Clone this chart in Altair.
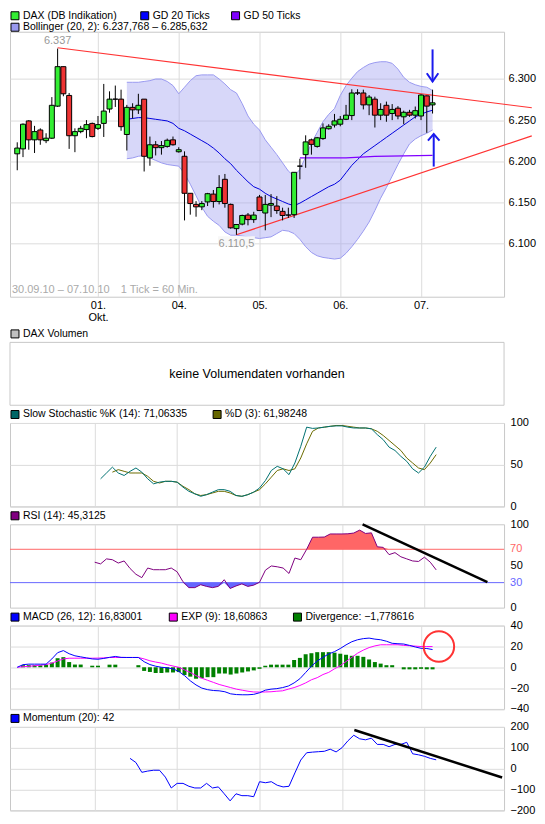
import json
import altair as alt
import pandas as pd

FONT = "Liberation Sans"
FS = 11
LFS = 10.5
W = 495
H_MAIN = 265.5
H_VOL = 90.75
VOL_TOP = 27.75
H_IND = 83.5
SPACING = 17.5

GRID = "#dcdcdc"
FRAME = "#c8c8c8"
GREEN = "#33ee33"
RED = "#ee3333"

# ---------------- x axis: candle index (1 tick = 60 min) ----------------
XDOM = [-0.39, 83.53]
day_ticks = [14, 28, 42, 56, 70]
day_labels = [["01.", "Okt."], "04.", "05.", "06.", "07."]

# ---------------- DAX candles ----------------
candle_open = [6209, 6215, 6249, 6226, 6238, 6225, 6228, 6267, 6315, 6280,
               6231, 6236, 6238.5, 6246, 6240, 6246, 6263.5, 6275.5, 6275.5, 6232.5,
               6265.5, 6262.5, 6275.5, 6204, 6220, 6216.5, 6218, 6226, 6211.5, 6206,
               6161, 6147.5, 6144.5, 6150.5, 6160, 6151, 6178, 6147.5, 6118, 6123.5,
               6134.5, 6129, 6156.5, 6137, 6146.5, 6145.5, 6139, 6134.5, 6135, 6194,
               6208, 6226, 6218, 6227.5, 6239.5, 6244, 6245, 6251, 6255.5, 6283,
               6283, 6268.5, 6275.5, 6256, 6268, 6258, 6264.5, 6254, 6259.5, 6256,
               6255, 6279.5, 6268.5]
candle_high = [6223, 6246, 6250, 6243, 6240, 6234, 6278, 6337, 6315, 6283,
               6240, 6243, 6250, 6247, 6255, 6294, 6285, 6292, 6287, 6268.5,
               6270.5, 6282, 6275.5, 6230, 6224.5, 6224.5, 6227.5, 6230, 6217, 6212,
               6161, 6151.5, 6151.5, 6161.5, 6165, 6183, 6184.5, 6148.5, 6123.5, 6135,
               6137, 6138.5, 6159, 6159, 6160, 6157.5, 6143.5, 6143.5, 6186.5, 6203,
               6231.5, 6227.5, 6229.5, 6246, 6245, 6257.5, 6255, 6268.5, 6287.5, 6287.5,
               6287, 6280.5, 6278.5, 6270.5, 6272.5, 6269.5, 6267, 6261.5, 6262.5, 6266.5,
               6281.5, 6280, 6287]
candle_low = [6189, 6205, 6214, 6210, 6220, 6222, 6227, 6266, 6279, 6215,
              6211, 6234, 6228, 6229, 6238, 6229.5, 6259, 6266, 6237, 6213,
              6252, 6257.5, 6187.5, 6194.5, 6207, 6208, 6216.5, 6219, 6210.5, 6128,
              6135, 6132.5, 6140.5, 6145.5, 6143.5, 6147.5, 6143.5, 6118, 6110.5, 6122,
              6122, 6125, 6139.5, 6116, 6132, 6136, 6128, 6131, 6131, 6178,
              6192, 6208, 6216.5, 6226, 6238.5, 6241, 6242.5, 6250, 6250, 6280.5,
              6263, 6256, 6241, 6250, 6248, 6250, 6251, 6245, 6254, 6252,
              6250, 6234.5, 6258]
candle_close = [6216, 6245, 6226, 6236, 6226, 6228, 6268, 6315, 6282, 6231,
                6236, 6240, 6244.5, 6230, 6244.5, 6261, 6275.5, 6275.5, 6242, 6265.5,
                6262.5, 6268, 6206, 6220, 6216.5, 6219, 6225.5, 6220, 6214, 6161,
                6148.5, 6144.5, 6148.5, 6160.5, 6151, 6168, 6148.5, 6119, 6123, 6134,
                6129, 6134.5, 6140, 6147.5, 6148.5, 6140, 6134, 6134.5, 6186.5, 6194,
                6223.5, 6220.5, 6228.5, 6240.5, 6242.5, 6249, 6251, 6256, 6283, 6283,
                6268.5, 6278, 6256, 6263, 6256, 6263, 6255, 6259.5, 6256, 6261.5,
                6280.5, 6267, 6271]

# ---------------- Bollinger (20, 2) / GD 20 from candle 19 ----------------
boll_start = 19
boll_upper = [6296, 6296, 6296, 6297, 6298, 6300, 6300, 6297, 6292, 6282,
              6290, 6298, 6304, 6305, 6305, 6305, 6300, 6294, 6287, 6283,
              6270, 6255, 6245, 6238, 6226, 6217, 6208, 6198, 6188, 6182,
              6190, 6205, 6222, 6235, 6248, 6257, 6264, 6280, 6292, 6301,
              6309, 6314, 6318, 6320, 6321, 6321, 6319, 6312, 6302, 6296,
              6293, 6291, 6290, 6286]
boll_mid = [6251, 6252, 6253, 6253, 6252, 6251, 6250, 6249, 6246, 6240,
            6237, 6233, 6229, 6225, 6221, 6216, 6210, 6203, 6197, 6189,
            6182, 6175, 6169, 6166, 6161, 6157, 6154, 6151, 6148, 6146,
            6149, 6153, 6157, 6161, 6165, 6169, 6172, 6177, 6186, 6195,
            6202, 6209, 6214, 6219, 6224, 6229, 6234, 6239, 6244, 6249,
            6254, 6257, 6260, 6262]
boll_lower = [6203, 6204, 6206, 6207, 6204, 6201, 6198, 6196, 6195, 6194,
              6185, 6172, 6158, 6144, 6133, 6127, 6122, 6114, 6110, 6110,
              6109, 6108, 6107, 6106, 6107, 6108, 6112, 6116, 6115, 6112,
              6105, 6096, 6089, 6085, 6083, 6082, 6081, 6082, 6088, 6096,
              6105, 6115, 6126, 6140, 6155, 6168, 6182, 6196, 6209, 6221,
              6227, 6231, 6234, 6238]

gd50_i = [49, 57, 62, 72]
gd50_v = [6204, 6204, 6206, 6207]

trend_lines = [("top", [7, 89.2], [6338, 6265]),
               ("bottom", [38, 89.2], [6110.5, 6230.8])]

arrows = [("down_shaft", [72, 72], [6336, 6297]),
          ("down_head", [71, 72, 73], [6307, 6297, 6307]),
          ("up_shaft", [72.2, 72.2], [6193.5, 6233]),
          ("up_head", [71.2, 72.2, 73.2], [6225, 6233, 6225])]

price_label_text = ["6.337", "6.110,5"]
price_label_i = [7, 38]
price_label_v = [6337, 6110.5]

# ---------------- indicators ----------------
stoch_k_start = 15
stoch_k = [33, 40, 47, 40, 37, 42, 46, 41, 33, 27,
           29, 30, 30, 29, 23, 18, 15, 12, 14, 17,
           20, 20, 18, 13, 12, 14, 17, 22, 31, 43,
           48, 45, 38, 52, 72, 95, 93.5, 94, 95, 96,
           96.5, 96.5, 95, 94, 94, 94, 93, 86, 80, 71,
           67, 60, 54, 45, 40, 47, 60, 71]
stoch_d_start = 17
stoch_d = [41, 44, 42, 40, 40, 40, 36, 30, 28, 30,
           30, 29, 24, 20, 15, 13, 14, 16, 18, 18,
           16, 13, 12, 14, 17, 20, 27, 35, 43, 45,
           43, 45, 58, 75, 90, 94, 95, 96, 97, 97,
           96, 95, 94, 94, 93, 90, 85, 79, 73, 67,
           58, 52, 46, 44, 52, 62]

rsi_start = 14
rsi = [54.5, 52.5, 58.5, 57.5, 53.5, 56, 47, 40, 36, 47.5,
       45.5, 45.5, 45.5, 47.5, 43, 31, 24, 24, 27.5, 25.5,
       24, 25.5, 33.5, 23, 26, 28.5, 25.5, 27, 30.5, 45,
       50, 49, 47.5, 41, 59.5, 57.5, 70, 84.5, 84.5, 84.7,
       88.4, 88.4, 88.4, 88.6, 89.5, 93, 89, 89.7, 73, 72.3,
       63.6, 66, 61, 58.5, 56, 55.4, 60.5, 54.5, 45.3]
rsi_levels = [70, 30]
rsi_level_colors = ["#ff6666", "#6666ff"]
rsi_trend_i = [59.5, 80.7]
rsi_trend_v = [100, 30.6]

macd = [0, 2.5, 3, 3, 3, 3, 8, 14, 16, 13,
        11, 10, 9, 8, 7.7, 8.5, 9.5, 10.4, 9.5, 9.4,
        9.4, 9.4, 5.3, 2.6, 1, 0, -0.5, -1.5, -4, -8,
        -13, -17, -20, -21.5, -22.3, -22.6, -23.5, -25.5, -26.2, -26.4,
        -26.4, -26, -24.5, -22, -21, -20.5, -19.5, -18, -15, -11,
        -5, 1, 6, 9.5, 12.8, 15, 18, 21.5, 24.5, 26.4,
        27.5, 28, 27, 26.4, 25, 23, 22.6, 22.3, 21, 19.5,
        18.2, 18, 17]
macd_exp = [0, 0.5, 0.9, 1.5, 2, 2.6, 4, 6, 8, 8.7,
            8.7, 8.7, 8.7, 8.7, 8.8, 9, 9.4, 9.4, 9.4, 9.4,
            9.4, 9.4, 8, 6.2, 5, 4, 2.5, 1.2, 0, -2.5,
            -5, -8, -10.5, -12.5, -14.5, -16.5, -18, -19.5, -21, -22,
            -23, -23.7, -23.8, -23.7, -23.5, -23, -22.6, -21, -19.5, -17.5,
            -15, -12, -10, -7, -4.9, -1.5, 1.5, 5.5, 9.5, 13.5,
            16.5, 18.9, 20.5, 21.6, 21.6, 21.6, 21.6, 21, 20.6, 20.3,
            19.9, 19.9, 19.9]
macd_div = [0, 2, 2, 2, 2, 2.5, 4.5, 8.7, 9.7, 5,
            2.6, 2.6, 0, 1.5, 1.5, 0, 2.5, 2.5, 0, 0,
            0, 2, -3.5, -4.5, -5.5, -5.5, -5, -5, -4.6, -7.5,
            -9, -11, -10.5, -9.5, -9.5, -6, -6, -7, -6, -5,
            -4, -3, -1.5, 1.5, 2.5, 2.5, 2.5, 2.5, 7, 9,
            12.5, 13.5, 14.5, 14.5, 14.5, 14, 13, 12, 11, 11,
            10, 7.5, 5, 3.5, 2, 2, 0, -2, -2, -2,
            -1.5, -2, -2]
macd_circle_i = [73.1]
macd_circle_v = [19.9]

mom_start = 20
mom = [49, 29, -18, -12, -8, -8, -41, -93, -71, -71,
       -85, -93, -93, -71, -93, -88, -121, -155, -121, -130,
       -130, -135, -63, -68, -63, -80, -88, -85, -21, 41,
       76, 79, 81, 83, 93, 80, 100, 133, 160, 143,
       138, 146, 116, 116, 105, 116, 116, 126, 71, 66,
       59, 49, 42]
mom_trend_i = [58.1, 83.2]
mom_trend_v = [185, -43]

# ---------------- helpers ----------------
ONE = pd.DataFrame({"a": [0]})


def xscale():
    return alt.Scale(domain=XDOM, nice=False, zero=False)


label_expr = " : ".join(
    f"datum.value == {t} ? {json.dumps(l)}" for t, l in zip(day_ticks, day_labels)
) + " : ''"

x_axis_main = alt.Axis(values=day_ticks, labelExpr=label_expr, grid=True, gridColor=GRID,
                       ticks=False, tickSize=0, domain=False, labelPadding=3,
                       labelLineHeight=12, labelAngle=0, title=None)
x_axis_ind = alt.Axis(values=day_ticks, labels=False, grid=True, gridColor=GRID,
                      ticks=False, tickSize=0, domain=False, title=None)


def legend_layers(items):
    out = []
    for text, color, sx, sy in items:
        out.append(alt.Chart(ONE).mark_square(size=64, fill=color, filled=True, stroke="black",
                                              strokeWidth=1, opacity=1)
                   .encode(x=alt.value(sx), y=alt.value(sy)))
        out.append(alt.Chart(ONE).mark_text(text=text, align="left", baseline="middle",
                                            font=FONT, fontSize=LFS, color="black")
                   .encode(x=alt.value(sx + 8), y=alt.value(sy)))
    return out


def series_df(start, values):
    return pd.DataFrame({"i": list(range(start, start + len(values))), "v": values})


def segs_df(segs):
    rows = []
    for name, xs, ys in segs:
        for k, (xv, yv) in enumerate(zip(xs, ys)):
            rows.append({"seg": name, "k": k, "i": xv, "v": yv})
    return pd.DataFrame(rows)


# ---------------- main panel ----------------
YS_MAIN = alt.Scale(domain=[6035.2, 6357.5], nice=False, zero=False)
y_axis_main = alt.Axis(orient="right", values=[6100, 6150, 6200, 6250, 6300],
                       labelExpr="replace(format(datum.value, ',d'), ',', '.')",
                       grid=True, gridColor=GRID, ticks=False, domain=False,
                       labelPadding=4, title=None)


def XM(f="i"):
    return alt.X(f"{f}:Q", scale=xscale(), axis=x_axis_main)


def YM(f):
    return alt.Y(f"{f}:Q", scale=YS_MAIN, axis=y_axis_main)


cdf = pd.DataFrame({"i": list(range(len(candle_open))), "open": candle_open, "high": candle_high,
                    "low": candle_low, "close": candle_close})
cdf["fill"] = [GREEN if c >= o else RED for o, c in zip(candle_open, candle_close)]

bdf = pd.DataFrame({"i": list(range(boll_start, boll_start + len(boll_mid))),
                    "upper": boll_upper, "mid": boll_mid, "lower": boll_lower})
edges = pd.concat([
    pd.DataFrame({"i": bdf["i"], "v": bdf["upper"], "edge": "upper"}),
    pd.DataFrame({"i": bdf["i"], "v": bdf["lower"], "edge": "lower"}),
])

band = alt.Chart(bdf).mark_area(color="#a0a0f0", opacity=0.42).encode(
    x=XM(), y=YM("upper"), y2="lower:Q")
band_edges = alt.Chart(edges).mark_line(color="#9a9af0", strokeWidth=1).encode(
    x=XM(), y=YM("v"), detail="edge:N")
mid_line = alt.Chart(bdf).mark_line(color="#0000dd", strokeWidth=1).encode(x=XM(), y=YM("mid"))
gd50 = alt.Chart(pd.DataFrame({"i": gd50_i, "v": gd50_v})).mark_line(
    color="#8000ff", strokeWidth=1.2).encode(x=XM(), y=YM("v"))
trends = alt.Chart(segs_df(trend_lines)).mark_line(color="#ff3333", strokeWidth=1.2).encode(
    x=XM(), y=YM("v"), detail="seg:N", order="k:Q")
wicks = alt.Chart(cdf).mark_rule(color="black", strokeWidth=1).encode(
    x=XM(), y=YM("low"), y2="high:Q")
bodies = alt.Chart(cdf).mark_bar(size=5, stroke="black", strokeWidth=1).encode(
    x=XM(), y=YM("open"), y2="close:Q", fill=alt.Fill("fill:N", scale=None))
arrow_lines = alt.Chart(segs_df(arrows)).mark_line(color="#1a1aee", strokeWidth=2).encode(
    x=XM(), y=YM("v"), detail="seg:N", order="k:Q")
pl = pd.DataFrame({"i": price_label_i, "v": price_label_v, "t": price_label_text})
lbl_box = alt.Chart(pl.iloc[[1]]).mark_rect(color="#f7f7f7").transform_calculate(
    x1="datum.i - 3.2", x2="datum.i + 3.2", y1="datum.v - 1.8", y2="datum.v - 13.5"
).encode(x=XM("x1"), x2="x2:Q", y=YM("y1"), y2="y2:Q")
lbl_hi = alt.Chart(pl.iloc[[0]]).mark_text(color="#999999", font=FONT, fontSize=FS, dy=-8).encode(
    x=XM(), y=YM("v"), text="t:N")
lbl_lo = alt.Chart(pl.iloc[[1]]).mark_text(color="#999999", font=FONT, fontSize=FS, dy=9).encode(
    x=XM(), y=YM("v"), text="t:N")
period_txt = alt.Chart(ONE).mark_text(text="30.09.10 – 07.10.10", align="left", baseline="middle",
                                      color="#aaaaaa", font=FONT, fontSize=FS).encode(
    x=alt.value(2), y=alt.value(H_MAIN - 7))
tick_txt = alt.Chart(ONE).mark_text(text="1 Tick = 60 Min.", align="left", baseline="middle",
                                    color="#aaaaaa", font=FONT, fontSize=FS).encode(
    x=alt.value(111), y=alt.value(H_MAIN - 7))

main_legend = [("DAX (DB Indikation)", GREEN, 5, -16),
               ("GD 20 Ticks", "#0000ff", 135, -16),
               ("GD 50 Ticks", "#8000ff", 226, -16),
               ("Bollinger (20, 2): 6.237,768 – 6.285,632", "#9999ee", 5, -4.5)]

main = alt.layer(band, band_edges, mid_line, gd50, trends, wicks, bodies, arrow_lines,
                 lbl_box, lbl_hi, lbl_lo, period_txt, tick_txt, *legend_layers(main_legend)
                 ).properties(width=W, height=H_MAIN)

# ---------------- volume panel (no data) ----------------
vol_frame = alt.Chart(ONE).mark_rect(fillOpacity=0, stroke=FRAME, strokeWidth=1).encode(
    x=alt.value(0), x2=alt.value(W), y=alt.value(VOL_TOP), y2=alt.value(H_VOL))
vol_text = alt.Chart(ONE).mark_text(text="keine Volumendaten vorhanden", align="center",
                                    baseline="middle", font=FONT, fontSize=12.5,
                                    color="black").encode(
    x=alt.value(W / 2), y=alt.value(VOL_TOP + (H_VOL - VOL_TOP) / 2))
vol = alt.layer(vol_frame, vol_text,
                *legend_layers([("DAX Volumen", "#c0c0c0", 5, VOL_TOP - 8.5)])
                ).properties(width=W, height=H_VOL,
                             view=alt.ViewBackground(stroke="transparent"))


# ---------------- indicator panels ----------------
def XI(f="i"):
    return alt.X(f"{f}:Q", scale=xscale(), axis=x_axis_ind)


def y_ind(domain, values, grid=True):
    sc = alt.Scale(domain=domain, nice=False, zero=False)
    ax = alt.Axis(orient="right", values=values, grid=grid, gridColor=GRID, ticks=False,
                  domain=False, labelPadding=6, title=None)
    return lambda f: alt.Y(f"{f}:Q", scale=sc, axis=ax)


LEG_Y = -8.5

# Stochastic
YS = y_ind([0, 100], [0, 50, 100])
stoch = alt.layer(
    alt.Chart(series_df(stoch_d_start, stoch_d)).mark_line(color="#6b6b00", strokeWidth=1).encode(
        x=XI(), y=YS("v")),
    alt.Chart(series_df(stoch_k_start, stoch_k)).mark_line(color="#007070", strokeWidth=1).encode(
        x=XI(), y=YS("v")),
    *legend_layers([("Slow Stochastic %K (14): 71,06335", "#006666", 5, LEG_Y),
                    ("%D (3): 61,98248", "#666600", 207.5, LEG_Y)])
).properties(width=W, height=H_IND)

# RSI
YR = y_ind([0, 100], [0, 50, 100], grid=False)
rdf = series_df(rsi_start, rsi)
rdf["hi"] = rdf["v"].clip(lower=70)
rdf["b70"] = 70
rdf["lo"] = rdf["v"].clip(upper=30)
rdf["b30"] = 30
lv = pd.DataFrame({"lvl": rsi_levels, "col": rsi_level_colors, "t": [str(x) for x in rsi_levels]})
rsi_chart = alt.layer(
    alt.Chart(rdf).mark_area(color="#ff6666").encode(x=XI(), y=YR("hi"), y2="b70:Q"),
    alt.Chart(rdf).mark_area(color="#6666ff").encode(x=XI(), y=YR("lo"), y2="b30:Q"),
    alt.Chart(lv).mark_rule(strokeWidth=1).encode(y=YR("lvl"), color=alt.Color("col:N", scale=None)),
    alt.Chart(lv).mark_text(align="left", baseline="middle", font=FONT, fontSize=FS).encode(
        x=alt.value(W + 6), y=YR("lvl"), text="t:N", color=alt.Color("col:N", scale=None)),
    alt.Chart(rdf).mark_line(color="#800080", strokeWidth=1).encode(x=XI(), y=YR("v")),
    alt.Chart(pd.DataFrame({"i": rsi_trend_i, "v": rsi_trend_v})).mark_line(
        color="black", strokeWidth=2.5).encode(x=XI(), y=YR("v")),
    *legend_layers([("RSI (14): 45,3125", "#800080", 5, LEG_Y)])
).properties(width=W, height=H_IND)

# MACD
YC = y_ind([-40, 40], [-40, -20, 0, 20, 40])
mdf = pd.DataFrame({"i": list(range(len(macd))), "macd": macd, "exp": macd_exp,
                    "div": macd_div, "zero": 0})
macd_chart = alt.layer(
    alt.Chart(mdf).mark_bar(size=4, color="#008000").encode(x=XI(), y=YC("div"), y2="zero:Q"),
    alt.Chart(mdf).mark_line(color="#ff00ff", strokeWidth=1).encode(x=XI(), y=YC("exp")),
    alt.Chart(mdf).mark_line(color="#0000ff", strokeWidth=1).encode(x=XI(), y=YC("macd")),
    alt.Chart(pd.DataFrame({"i": macd_circle_i, "v": macd_circle_v})).mark_point(
        shape="circle", size=930, filled=False, stroke="#ff3333", strokeWidth=2, opacity=1).encode(
        x=XI(), y=YC("v")),
    *legend_layers([("MACD (26, 12): 16,83001", "#0000ff", 5, LEG_Y),
                    ("EXP (9): 18,60863", "#ff00ff", 163.6, LEG_Y),
                    ("Divergence: \u22121,778616", "#008000", 288, LEG_Y)])
).properties(width=W, height=H_IND)

# Momentum
YM2 = y_ind([-200, 200], [-200, -100, 0, 100, 200])
mom_chart = alt.layer(
    alt.Chart(series_df(mom_start, mom)).mark_line(color="#0000ff", strokeWidth=1).encode(
        x=XI(), y=YM2("v")),
    alt.Chart(pd.DataFrame({"i": mom_trend_i, "v": mom_trend_v})).mark_line(
        color="black", strokeWidth=2.5).encode(x=XI(), y=YM2("v")),
    *legend_layers([("Momentum (20): 42", "#0000ff", 5, LEG_Y)])
).properties(width=W, height=H_IND)

chart = alt.vconcat(main, vol, stoch, rsi_chart, macd_chart, mom_chart,
                    spacing=SPACING, bounds="flush").properties(
    padding={"left": 0, "top": 0, "right": 0, "bottom": 0},
    background="white",
).configure_view(stroke=FRAME, strokeWidth=1).configure_axis(
    labelFont=FONT, labelFontSize=FS, labelColor="black")

chart.save("out.html", embed_options={"renderer": "svg", "actions": False})
